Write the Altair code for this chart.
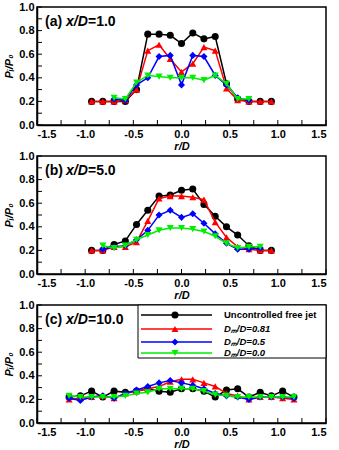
import altair as alt
import pandas as pd

# ---------------- data ----------------
R_C = [-1.167, -1.05, -0.933, -0.817, -0.70, -0.583, -0.467, -0.35, -0.233, -0.117, 0.0,
       0.117, 0.233, 0.35, 0.467, 0.583, 0.70, 0.817, 0.933, 1.05, 1.167]
R_WIDE = R_C[2:19]     # -0.933 .. 0.933
R_MID = R_C[3:18]      # -0.817 .. 0.817
R_NARROW = R_C[4:17]   # -0.70 .. 0.70

a_black = [0.20, 0.20, 0.20, 0.20, 0.30, 0.77, 0.77, 0.76, 0.69, 0.78, 0.73, 0.75, 0.35, 0.22, 0.20, 0.20, 0.20]
a_red = [0.20, 0.20, 0.20, 0.21, 0.30, 0.63, 0.68, 0.56, 0.45, 0.52, 0.66, 0.63, 0.31, 0.21, 0.20, 0.20, 0.20]
a_blue = [0.22, 0.21, 0.34, 0.40, 0.58, 0.59, 0.34, 0.59, 0.58, 0.42, 0.34, 0.23, 0.21]
a_green = [0.23, 0.22, 0.36, 0.42, 0.41, 0.40, 0.40, 0.40, 0.38, 0.42, 0.35, 0.22, 0.22]

b_black = [0.20, 0.20, 0.25, 0.28, 0.42, 0.54, 0.66, 0.67, 0.71, 0.72, 0.59, 0.49, 0.40, 0.33, 0.24, 0.20, 0.20]
b_red = [0.20, 0.20, 0.23, 0.23, 0.27, 0.45, 0.64, 0.66, 0.66, 0.65, 0.63, 0.44, 0.31, 0.23, 0.21, 0.20, 0.20]
b_blue = [0.21, 0.23, 0.24, 0.29, 0.37, 0.50, 0.54, 0.48, 0.51, 0.43, 0.34, 0.26, 0.21, 0.21, 0.22]
b_green = [0.24, 0.22, 0.24, 0.29, 0.33, 0.37, 0.39, 0.39, 0.38, 0.36, 0.32, 0.26, 0.22, 0.23, 0.23]

c_black = [0.22, 0.23, 0.27, 0.22, 0.27, 0.26, 0.27, 0.29, 0.27, 0.26, 0.29, 0.29, 0.27, 0.22, 0.28, 0.29, 0.22, 0.26, 0.23, 0.27, 0.22]
c_red = [0.20, 0.21, 0.22, 0.23, 0.21, 0.25, 0.27, 0.29, 0.31, 0.35, 0.37, 0.37, 0.34, 0.31, 0.25, 0.23, 0.20, 0.22, 0.22, 0.21, 0.20]
c_blue = [0.21, 0.19, 0.22, 0.23, 0.21, 0.25, 0.28, 0.31, 0.34, 0.36, 0.34, 0.32, 0.29, 0.25, 0.23, 0.22, 0.20, 0.22, 0.22, 0.22, 0.21]
c_green = [0.23, 0.22, 0.22, 0.22, 0.22, 0.23, 0.25, 0.26, 0.29, 0.29, 0.29, 0.29, 0.27, 0.24, 0.23, 0.22, 0.22, 0.22, 0.22, 0.22, 0.22]

SERIES = ["Uncontrolled free jet", "Dₘ/D=0.81", "Dₘ/D=0.5", "Dₘ/D=0.0"]
COLORS = ["#000000", "#ff0000", "#0000ff", "#00ee00"]
SHAPES = ["circle", "triangle-up", "diamond", "triangle-down"]

PANELS = [
    ("(a) ", "x/D", "=1.0", [(R_WIDE, a_black), (R_WIDE, a_red), (R_NARROW, a_blue), (R_NARROW, a_green)]),
    ("(b) ", "x/D", "=5.0", [(R_WIDE, b_black), (R_WIDE, b_red), (R_MID, b_blue), (R_MID, b_green)]),
    ("(c) ", "x/D", "=10.0", [(R_C, c_black), (R_C, c_red), (R_C, c_blue), (R_C, c_green)]),
]

X_TICKS = [-1.5 + 0.25 * i for i in range(13)]
Y_TICKS = [0.1 * i for i in range(11)]
X_LABELS = [-1.5, -1.0, -0.5, 0.0, 0.5, 1.0, 1.5]
Y_LABELS = [0.0, 0.2, 0.4, 0.6, 0.8, 1.0]

# ---------------- layout ----------------
W, H = 289, 118
FONT = "Liberation Sans"
x_scale = alt.Scale(domain=[-1.5, 1.5], nice=False, zero=False)
y_scale = alt.Scale(domain=[0, 1], nice=False)

x_axis = alt.Axis(values=X_LABELS, labelExpr="replace(format(datum.value, '.1f'), '−', '-')",
                  ticks=False, grid=False, labelPadding=3, title="r/D", titlePadding=1,
                  titleFontStyle="italic")
y_axis = alt.Axis(values=Y_LABELS, format=".1f", ticks=False, grid=False, labelPadding=3,
                  title="Pᵢ/P₀", titlePadding=4, titleFontStyle="italic")


def panel(tag, xd, val, series, legend=False):
    layers = []
    xt = pd.DataFrame({"t": X_TICKS})
    yt = pd.DataFrame({"t": Y_TICKS})
    layers.append(alt.Chart(xt).mark_rule(color="black", strokeWidth=1).encode(
        x=alt.X("t:Q", scale=x_scale, axis=x_axis),
        y=alt.value(H), y2=alt.value(H - 5)))
    layers.append(alt.Chart(yt).mark_rule(color="black", strokeWidth=1).encode(
        y=alt.Y("t:Q", scale=y_scale, axis=y_axis),
        x=alt.value(0), x2=alt.value(5)))
    for i, (xs, ys) in enumerate(series):
        df = pd.DataFrame({"r": xs, "p": ys})
        enc = dict(x=alt.X("r:Q", scale=x_scale, axis=x_axis),
                   y=alt.Y("p:Q", scale=y_scale, axis=y_axis))
        layers.append(alt.Chart(df).mark_line(color=COLORS[i], strokeWidth=1.5).encode(**enc))
        layers.append(alt.Chart(df).mark_point(color=COLORS[i], shape=SHAPES[i], filled=True,
                                               opacity=1, size=50).encode(**enc))
    # panel label
    parts = [(tag, "normal", 8), (xd, "italic", 29), (val, "normal", 51)]
    for txt, style, px in parts:
        layers.append(alt.Chart(pd.DataFrame({"lab": [txt]})).mark_text(
            align="left", baseline="middle", fontSize=14, fontWeight="bold",
            fontStyle=style, font=FONT, color="black").encode(
            text="lab:N", x=alt.value(px), y=alt.value(15)))
    if legend:
        layers.append(alt.Chart(pd.DataFrame({"a": [0]})).mark_rect(
            fill="white", stroke="black", strokeWidth=1).encode(
            x=alt.value(101), x2=alt.value(W), y=alt.value(0), y2=alt.value(53)))
        rows = [10, 24, 37, 48]
        for i, lab in enumerate(SERIES):
            d = pd.DataFrame({"lab": [lab]})
            layers.append(alt.Chart(d).mark_rule(color=COLORS[i], strokeWidth=1.5).encode(
                x=alt.value(104), x2=alt.value(175), y=alt.value(rows[i])))
            layers.append(alt.Chart(d).mark_point(color=COLORS[i], shape=SHAPES[i], filled=True,
                                                  opacity=1, size=50).encode(
                x=alt.value(138), y=alt.value(rows[i])))
            layers.append(alt.Chart(d).mark_text(
                align="left", baseline="middle", fontSize=9.5, fontWeight="bold",
                fontStyle="normal" if i == 0 else "italic", font=FONT, color="black").encode(
                text="lab:N", x=alt.value(187), y=alt.value(rows[i])))
    return alt.layer(*layers).properties(width=W, height=H)


charts = [panel(t, xd, v, s, legend=(k == 2)) for k, (t, xd, v, s) in enumerate(PANELS)]

chart = alt.vconcat(*charts, spacing=31, bounds="flush").properties(
    padding={"left": 2, "top": 0, "right": 0, "bottom": 0}
).configure_view(stroke="black", strokeWidth=1.5).configure_axis(
    domainColor="black", domainWidth=1.5, labelFont=FONT, labelFontSize=11,
    labelFontWeight="bold", labelColor="black", titleFont=FONT, titleFontSize=11,
    titleFontWeight="bold", titleColor="black"
)

chart.save("out.html", embed_options={"renderer": "svg", "actions": False})
